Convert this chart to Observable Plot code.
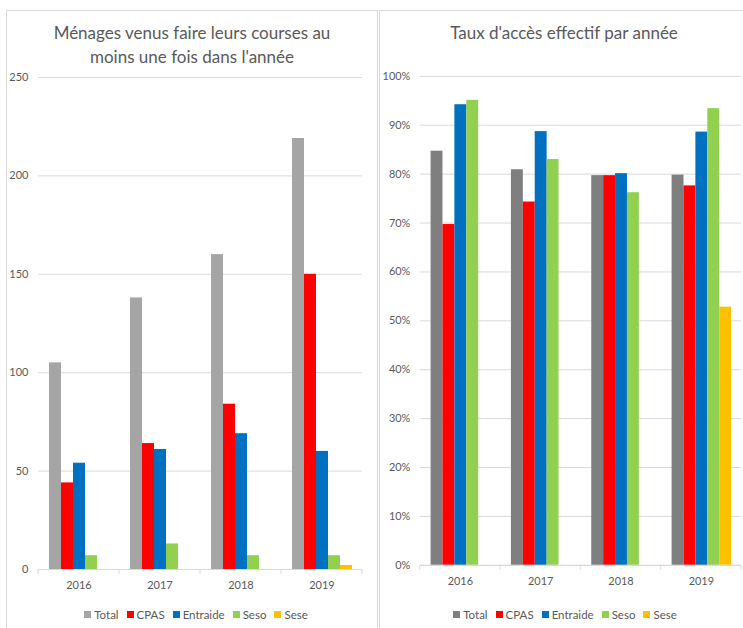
<!DOCTYPE html>
<html>
<head>
<meta charset="utf-8">
<script src="https://cdn.jsdelivr.net/npm/d3@7"></script>
<script src="https://cdn.jsdelivr.net/npm/@observablehq/plot@0.6"></script>
<style>
  body { margin: 0; background: #fff; }
  #wrap { position: relative; width: 743px; height: 628px; overflow: hidden; background: #fff;
          font-family: Lato, "Open Sans", sans-serif; color: #595959; }
  .panel { position: absolute; top: 10px; height: 640px; border: 1px solid #d9d9d9; box-sizing: border-box; }
  .title { position: absolute; top: 21px; text-align: center; font-size: 17px; line-height: 24px; color: #595959; }
  .chart { position: absolute; top: 60px; }
  .legend { position: absolute; top: 598px; display: flex; justify-content: center; }
  .lg-swatches { font-family: Lato, "Open Sans", sans-serif !important; font-size: 11.5px !important;
                 color: #595959 !important; margin: 0 !important; justify-content: center; }
  .lg-swatch { margin-right: 8px !important; }
  .lg-swatch > svg { margin-right: 3px !important; }
</style>
</head>
<body>
<div id="wrap">
  <div class="panel" style="left:6px;width:372px"></div>
  <div class="panel" style="left:379px;width:380px"></div>
  <div class="title" style="left:6px;width:372px">Ménages venus faire leurs courses au<br>moins une fois dans l'année</div>
  <div class="title" style="left:379px;width:370px">Taux d'accès effectif par année</div>
  <div class="chart" id="c1" style="left:0px"></div>
  <div class="chart" id="c2" style="left:380px"></div>
  <div class="legend" id="l1" style="left:14px;width:372px"></div>
  <div class="legend" id="l2" style="left:384px;width:370px"></div>
</div>
<script>
// Years and groups shown in both charts
const years = ["2016", "2017", "2018", "2019"];
const series = ["Total", "CPAS", "Entraide", "Seso", "Sese"];

// Households that came shopping at least once in the year
const menagesTotal    = [105, 138, 160, 219];
const menagesCPAS     = [44, 64, 84, 150];
const menagesEntraide = [54, 61, 69, 60];
const menagesSeso     = [7, 13, 7, 7];
const menagesSese     = [null, null, null, 2];

// Effective access rate per year
const tauxTotal    = [0.847, 0.809, 0.797, 0.798];
const tauxCPAS     = [0.697, 0.743, 0.797, 0.776];
const tauxEntraide = [0.942, 0.887, 0.801, 0.886];
const tauxSeso     = [0.951, 0.830, 0.762, 0.934];
const tauxSese     = [null, null, null, 0.528];

// Axis ticks
const menagesTicks = [0, 50, 100, 150, 200, 250];
const tauxTicks = [0, 0.1, 0.2, 0.3, 0.4, 0.5, 0.6, 0.7, 0.8, 0.9, 1];

// Colours per group
const menagesColors = ["#A5A5A5", "#FF0000", "#0070C0", "#92D050", "#FFC000"];
const tauxColors    = ["#7F7F7F", "#FF0000", "#0070C0", "#92D050", "#FFC000"];

const FONT = 'Lato, "Open Sans", sans-serif';
const GRID = "#d9d9d9";

function toRows(columns) {
  return years.flatMap((year, i) =>
    series.map((s, j) => ({year, series: s, value: columns[j][i]}))
  ).filter(d => d.value != null);
}

function groupedBars({rows, colors, domain, ticks, format, width, marginLeft, marginRight, marginTop}) {
  const plot = Plot.plot({
    width, height: 539, marginTop, marginBottom: 30, marginLeft, marginRight,
    style: {fontFamily: FONT, fontSize: "11px", color: "#595959", background: "transparent", overflow: "visible"},
    fx: {domain: years, padding: 0, label: null},
    x: {domain: series, paddingInner: 0, paddingOuter: 0.7, axis: null},
    y: {domain, label: null},
    color: {domain: series, range: colors},
    marks: [
      Plot.gridY(ticks, {stroke: GRID, strokeOpacity: 1}),
      Plot.axisY(ticks, {tickSize: 0, tickPadding: 10, tickFormat: format, label: null}),
      Plot.axisFx({anchor: "bottom", tickSize: 0, tickPadding: 12, label: null}),
      Plot.barY(rows, {fx: "year", x: "series", y: "value", fill: "series"}),
      Plot.ruleY([0], {stroke: GRID})
    ]
  });
  // small tick marks on the category boundaries of the baseline
  const fx = plot.scale("fx"), y = plot.scale("y");
  const y0 = y.apply(0);
  const edges = years.map(v => fx.apply(v)).concat(fx.apply(years[years.length - 1]) + fx.bandwidth);
  d3.select(plot).append("g")
    .selectAll("line").data(edges).join("line")
    .attr("x1", d => d).attr("x2", d => d)
    .attr("y1", y0).attr("y2", y0 + 5)
    .attr("stroke", GRID);
  return plot;
}

const p1 = groupedBars({
  rows: toRows([menagesTotal, menagesCPAS, menagesEntraide, menagesSeso, menagesSese]),
  colors: menagesColors, domain: [0, 250], ticks: menagesTicks, format: d3.format("d"),
  width: 375, marginLeft: 38, marginRight: 13, marginTop: 17
});
document.getElementById("c1").append(p1);
document.getElementById("l1").append(p1.legend("color", {className: "lg", swatchSize: 7}));

const p2 = groupedBars({
  rows: toRows([tauxTotal, tauxCPAS, tauxEntraide, tauxSeso, tauxSese]),
  colors: tauxColors, domain: [0, 1], ticks: tauxTicks, format: d3.format(".0%"),
  width: 366, marginLeft: 39, marginRight: 2, marginTop: 16
});
document.getElementById("c2").append(p2);
document.getElementById("l2").append(p2.legend("color", {className: "lg", swatchSize: 7}));
</script>
</body>
</html>
